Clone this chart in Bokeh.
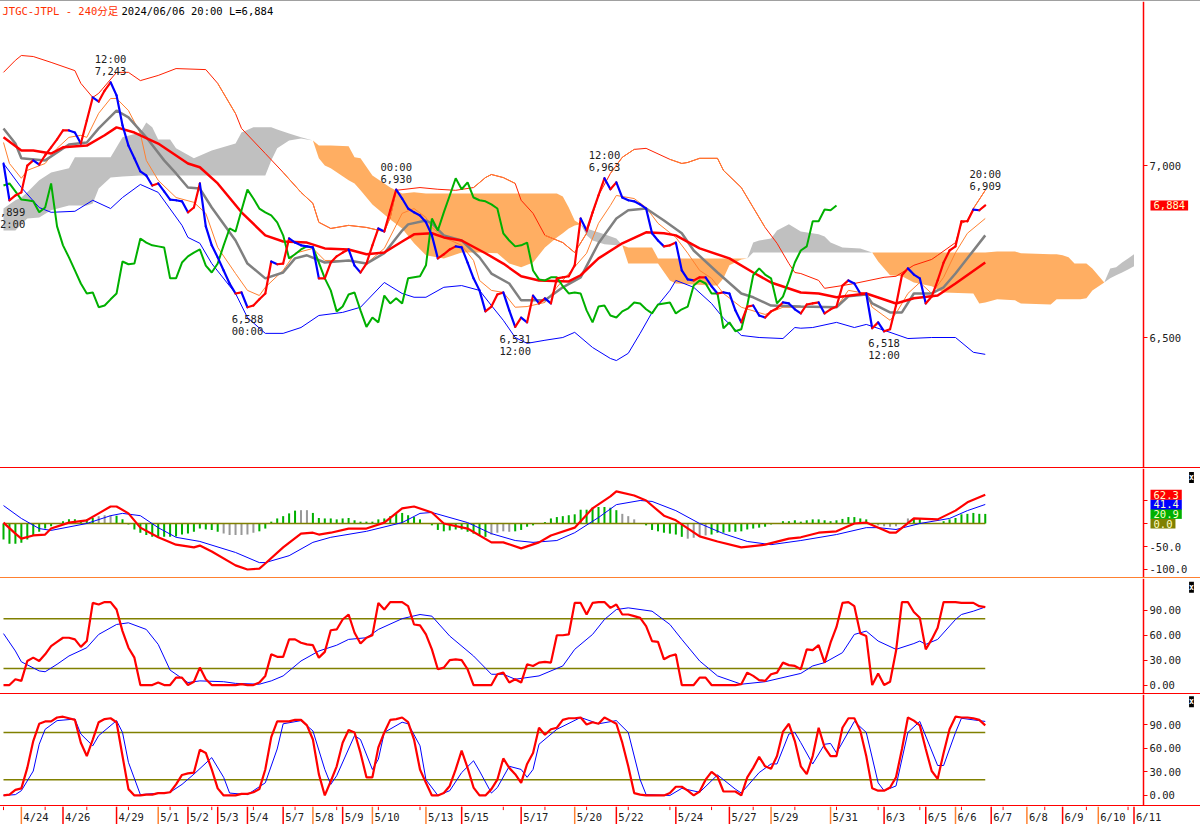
from bokeh.core.properties import value
from bokeh.embed import file_html
from bokeh.layouts import column
from bokeh.models import FixedTicker, Label, LinearAxis, Range1d, Spacer
from bokeh.plotting import figure
from bokeh.resources import INLINE

# 240 minute bars, 0 = first bar on screen, 165 = 2024/06/06 20:00
price = [
    7006, 6899, 6913, 6922, 7000, 7015, 7003, 7030, 7053, 7076,
    7102, 7102, 7096, 7064, 7131, 7198, 7186, 7218, 7242, 7204,
    7117, 7058, 7021, 6983, 6971, 6942, 6948, 6925, 6901, 6899,
    6896, 6864, 6878, 6948, 6823, 6768, 6733, 6695, 6657, 6628,
    6631, 6588, 6593, 6611, 6628, 6721, 6713, 6715, 6788, 6776,
    6768, 6765, 6762, 6672, 6672, 6718, 6736, 6747, 6756, 6709,
    6689, 6715, 6768, 6817, 6808, 6870, 6930, 6904, 6875, 6864,
    6855, 6835, 6797, 6730, 6742, 6756, 6765, 6762, 6718, 6672,
    6637, 6576, 6590, 6625, 6631, 6579, 6531, 6558, 6544, 6622,
    6599, 6614, 6599, 6672, 6675, 6678, 6710, 6846, 6811, 6864,
    6913, 6963, 6931, 6951, 6907, 6899, 6896, 6887, 6875, 6803,
    6782, 6765, 6768, 6776, 6695, 6669, 6666, 6675, 6675, 6649,
    6628, 6631, 6628, 6579, 6544, 6590, 6593, 6564, 6558, 6576,
    6585, 6602, 6599, 6582, 6570, 6596, 6599, 6602, 6570, 6582,
    6590, 6651, 6666, 6657, 6628, 6628, 6527, 6544, 6518, 6524,
    6593, 6681, 6701, 6683, 6672, 6599, 6619, 6666, 6718, 6753,
    6765, 6838, 6838, 6872, 6870, 6884,
]
chikou_lag = 25

upper_bars = [0, 2, 3, 5, 8, 12, 13, 15, 16, 19, 21, 23, 26, 29, 34, 36, 39, 40, 44, 47, 50, 52, 53, 55, 58, 61, 64, 65, 66,
              70, 73, 76, 79, 81, 82, 84, 86, 87, 89, 91, 94, 96, 98, 100, 102, 104, 106, 108, 112, 114, 115, 117, 120, 121,
              124, 126, 128, 130, 132, 133, 134, 137, 138, 141, 143, 148, 150, 153, 156, 157, 160, 161, 162, 163, 165]
upper_vals = [7271, 7306, 7320, 7317, 7300, 7276, 7239, 7198, 7210, 7271, 7271, 7247, 7262, 7282, 7279, 7239, 7151, 7108, 7035,
              6980, 6922, 6890, 6835, 6817, 6826, 6820, 6808, 6849, 6928,
              6936, 6931, 6928, 6936, 6965, 6974, 6965, 6948, 6899, 6861, 6797, 6776, 6747, 6803, 6913, 6977, 7024, 7047, 7050,
              7018, 7006, 7009, 7021, 7021, 6986, 6936, 6878, 6820, 6774, 6715, 6689, 6686, 6666, 6643, 6651, 6657, 6675, 6678,
              6710, 6727, 6739, 6776, 6832, 6840, 6875, 6928]
upper_orange = [(36, 39), (47, 66), (79, 86), (91, 98), (102, 106), (112, 128), (163, 165)]

lower_bars = [0, 3, 6, 8, 12, 15, 18, 20, 23, 26, 30, 31, 33, 35, 39, 41, 44, 47, 50, 53, 57, 60, 64, 67, 69, 71, 74, 77, 80, 82,
              84, 86, 88, 91, 94, 96, 99, 102, 103, 105, 107, 109, 112, 113, 116, 119, 121, 124, 127, 131, 133, 134, 136, 140,
              143, 145, 148, 152, 156, 160, 163, 165]
lower_vals = [7006, 6936, 6878, 6864, 6867, 6899, 6875, 6907, 6945, 6922, 6826, 6791, 6774, 6715, 6628, 6558, 6512, 6512, 6529,
              6564, 6573, 6588, 6660, 6628, 6617, 6617, 6646, 6651, 6637, 6593, 6550, 6500, 6483, 6492, 6500, 6515, 6471, 6439,
              6433, 6454, 6512, 6573, 6637, 6666, 6646, 6599, 6556, 6506, 6500, 6497, 6529, 6527, 6529, 6544, 6529, 6538, 6521,
              6497, 6500, 6500, 6457, 6451]

short_bars = [0, 1, 3, 4, 7, 9, 11, 13, 14, 16, 18, 19, 21, 23, 24, 26, 29, 32, 34, 36, 39, 41, 43, 44, 47, 49, 52, 54, 57, 61, 64,
              67, 69, 71, 72, 74, 77, 79, 80, 82, 84, 86, 88, 91, 93, 95, 98, 100, 102, 103, 106, 108, 110, 113, 115, 117, 119,
              121, 124, 128, 131, 134, 137, 140, 142, 145, 146, 149, 150, 152, 154, 156, 158, 160, 162, 165]
short_vals = [7067, 7006, 6963, 6986, 7006, 7050, 7082, 7088, 7082, 7152, 7195, 7195, 7160, 7093, 7015, 6957, 6907, 6893, 6861,
              6762, 6686, 6637, 6622, 6646, 6695, 6745, 6759, 6724, 6724, 6715, 6759,
              6861, 6875, 6849, 6820, 6791, 6768, 6724, 6666, 6637, 6631, 6588, 6590, 6602, 6646, 6686, 6745, 6832, 6884, 6913,
              6904, 6878, 6832, 6791, 6745, 6695, 6672, 6628, 6588, 6567, 6588, 6588, 6588, 6588, 6637, 6628, 6588, 6550, 6570,
              6628, 6660, 6628, 6675, 6747, 6803, 6846]

mid_bars = [0, 2, 3, 7, 9, 11, 14, 16, 19, 21, 24, 27, 29, 31, 33, 35, 39, 41, 44, 47, 49, 51, 54, 58, 61, 64, 67, 68, 71, 72, 74,
            77, 80, 82, 85, 87, 91, 94, 97, 100, 103, 105, 108, 111, 114, 116, 120, 124, 126, 129, 134, 140, 142, 145, 146, 149,
            151, 153, 156, 158, 160, 165]
mid_vals = [7108, 7064, 7021, 7015, 7038, 7061, 7067, 7108, 7160, 7140, 7082, 7015, 6977, 6936, 6933, 6878, 6782, 6715, 6672,
            6689, 6730, 6739, 6718, 6724, 6715, 6745, 6811, 6829, 6840, 6832, 6797,
            6782, 6733, 6686, 6657, 6608, 6608, 6646, 6675, 6774, 6846, 6870, 6875, 6840, 6803, 6753, 6689, 6628, 6617, 6593,
            6590, 6588, 6620, 6625, 6599, 6573, 6573, 6628, 6628, 6646, 6686, 6797]

long_bars = [0, 3, 5, 8, 10, 14, 17, 19, 22, 26, 31, 33, 36, 40, 44, 47, 51, 54, 58, 61, 64, 67, 69, 72, 74, 77, 81, 84, 87, 90, 95,
             97, 100, 104, 108, 111, 113, 117, 122, 126, 129, 134, 137, 140, 145, 150, 153, 157, 160, 165]
long_vals = [7082, 7044, 7044, 7035, 7053, 7058, 7088, 7111, 7096, 7064, 7006, 6995, 6948, 6864, 6797, 6779, 6776, 6759, 6756,
             6742, 6747, 6779, 6800, 6803, 6791, 6782, 6745, 6715, 6678, 6666, 6663,
             6681, 6730, 6774, 6806, 6803, 6797, 6759, 6730, 6689, 6660, 6631, 6628, 6617, 6628, 6599, 6614, 6622, 6657, 6718]

cloud_bars = [0, 2, 3, 4, 6, 8, 11, 12, 14, 15, 16, 18, 20, 23, 24, 25, 26, 28, 29, 32, 35, 39, 40, 42, 44, 45, 46, 48, 50, 52,
              53, 54, 55, 58, 59, 60, 62, 65, 67, 69, 71, 74, 77, 80, 83, 85, 87, 89, 91, 93, 94, 95, 96, 97,
              98, 99, 101, 103, 104,
              105, 109, 110, 112, 113, 119, 120, 121, 122, 124, 125,
              126, 127, 129, 130, 132, 134, 137, 138, 139, 141, 144, 146,
              147, 149, 151, 153, 156, 158, 163, 164, 165, 167, 170, 171, 176, 177, 178, 179, 180, 181, 182, 183, 185,
              186, 187, 188, 189, 190]
span_a = [6875, 6899, 6907, 6922, 6957, 6980, 6992, 7024, 7024, 7024, 7024, 7024, 7082, 7096, 7125, 7111, 7076, 7076, 7050, 7021,
          7044, 7064, 7096, 7111, 7111, 7111, 7105, 7093, 7082, 7073,
          7021, 7000, 6992, 6957, 6948, 6928, 6887, 6843, 6817, 6774, 6739, 6730, 6747, 6747, 6745, 6715, 6704, 6718, 6762, 6791,
          6803, 6817, 6826, 6829,
          6817, 6811, 6800, 6788, 6768,
          6715, 6715, 6715, 6666, 6657, 6651, 6651, 6672, 6710, 6727, 6730,
          6776, 6782, 6788, 6811, 6829, 6808, 6800, 6794, 6776, 6762, 6759, 6747,
          6721, 6681, 6678, 6660, 6649, 6631, 6628, 6599, 6602, 6611, 6608, 6599, 6596, 6611, 6611, 6611, 6611, 6611, 6614, 6637, 6660,
          6701, 6704, 6718, 6730, 6742]
span_b = [6811, 6811, 6829, 6846, 6849, 6870, 6884, 6884, 6884, 6890, 6933, 6965, 6968, 6971, 6971, 6971, 6971, 6971, 6971, 6971,
          6971, 6971, 6971, 6971, 6971, 7015, 7050, 7073, 7079, 7073,
          7058, 7058, 7058, 7056, 7024, 7021, 6971, 6936, 6919, 6922, 6919, 6919, 6919, 6919, 6919, 6919, 6919, 6919, 6919, 6919,
          6910, 6878, 6840, 6829,
          6797, 6782, 6771, 6768, 6768,
          6762, 6762, 6730, 6730, 6730, 6730, 6730, 6730, 6730, 6730, 6730,
          6747, 6747, 6747, 6747, 6747, 6747, 6747, 6747, 6747, 6747, 6747, 6747,
          6747, 6747, 6747, 6747, 6747, 6747, 6747, 6747, 6747, 6750, 6750, 6745, 6742, 6742, 6739, 6733, 6715, 6715, 6715, 6701, 6660,
          6672, 6681, 6689, 6698, 6707]

# (bar, high/low printed on the chart, time)
extreme_bars = [1, 18, 41, 66, 86, 101, 148, 165]
extreme_vals = [6899, 7243, 6588, 6930, 6531, 6963, 6518, 6909]
extreme_times = ["12:00", "12:00", "00:00", "00:00", "12:00", "12:00", "12:00", "20:00"]
extreme_is_high = [False, True, False, True, False, True, False, True]
last_price = 6884

macd_bars = [0, 2, 3, 5, 7, 8, 11, 14, 16, 18, 19, 21, 23, 26, 29, 32, 33, 35, 39, 41, 43, 44, 47, 50, 52, 53, 55, 58, 61, 64, 67,
             69, 72, 74, 78, 82, 84, 87, 90, 92, 96, 99, 102, 103, 106, 108, 111, 113, 117, 120, 124, 128, 132, 134,
             137, 140, 143, 145, 149, 150, 153, 157, 160, 162, 165]
macd_vals = [2, -22, -33, -26, -24, -11, 2, 7, 22, 37, 37, 22, -9, -30, -46, -52, -48, -61, -91, -100, -98, -87, -52, -22, -20, -24,
             -20, -11, -11, 2, 33,
             37, 24, 0, -11, -41, -41, -54, -41, -26, -9, 33, 59, 70, 61, 50, 17, 7, -28, -39, -52, -46, -33, -30,
             -20, -17, 0, 2, -20, -20, 11, 9, 28, 46, 62.3]
signal_bars = [0, 3, 6, 8, 14, 18, 20, 23, 26, 29, 33, 39, 43, 44, 48, 52, 55, 61, 67, 70, 72, 78, 82, 86, 89, 93, 96, 100, 103, 107,
               109, 113, 117, 121, 125, 129, 134, 140, 145, 147, 150, 154, 159, 162, 165]
signal_vals = [39, 11, -11, -15, 0, 17, 22, 17, -9, -30, -39, -63, -85, -85, -70, -41, -30, -17, 2, 22, 24, 2, -22, -37, -41, -37,
               -20, 13, 41, 50, 48, 28, 0, -22, -39, -46, -37, -24, -9, -9, -13, 0, 11, 28, 41.4]
macd_hist = [
    -35, -44, -44, -42, -35, -25, -18, -11, -6, -1,
    5, 9, 9, 5, 9, 12, 16, 18, 18, 17,
    9, -2, -13, -20, -25, -29, -29, -29, -29, -28,
    -24, -22, -18, -11, -13, -14, -18, -22, -25, -25,
    -25, -24, -20, -17, -11, 4, 11, 16, 22, 28,
    29, 29, 23, 12, 11, 11, 9, 11, 12, 7,
    4, 4, 4, 9, 11, 16, 22,
    23, 18, 14, 9, 1, -4, -14, -17, -15, -13,
    -13, -18, -22, -26, -29, -24, -20, -17, -18, -17,
    -14, -7, -4, 1, 3, 11, 14, 16, 18, 20,
    30, 30, 34, 36, 36, 34, 29, 21, 16, 9,
    1, -4, -14, -17, -20, -22, -24, -29, -33, -31,
    -29, -26, -24, -20, -20, -18, -18, -17, -13, -11,
    -9, -7, -2, 1, 5, 5, 7,
    4, 7, 9, 9, 7, 5, 7, 10, 14, 14,
    11, 9, 0, -4, -6, -7, -6, 1, 11, 12,
    12, 1, 0, 0, 5, 9, 12, 20, 21, 23,
    21, 20.9,
]
hist_gray = [16, 17, 18, 37, 38, 39, 40, 41, 42, 50, 51, 82, 83, 84, 85, 104, 105, 106, 115, 116, 117, 118, 147, 148, 149, 150, 152]

stoch_k = [
    0, 0, 7, 5, 29, 33, 29, 37, 47, 52,
    57, 57, 55, 46, 53, 99, 97, 100, 100, 91,
    65, 45, 33, 0, 0, 0, 3, 0, 0, 9,
    9, 0, 4, 21, 7, 0, 0, 0, 0, 0,
    1, 0, 0, 3, 11, 37, 34, 34, 55, 55,
    51, 49, 48, 33, 40, 66, 67, 79, 85, 63,
    50, 57, 60, 99, 91, 100, 100, 100, 95, 73,
    72, 61, 43, 19, 21, 30, 31, 30, 19, 0,
    0, 0, 0, 13, 15, 3, 7, 3, 25, 23,
    27, 28, 27, 60, 60, 61, 99, 99, 85, 99,
    100, 100, 93, 97, 85, 85, 83, 81, 71, 53,
    52, 31, 35, 37, 0, 0, 0, 9, 9, 0,
    0, 0, 0, 0, 1, 15, 11, 6, 5, 13,
    15, 27, 24, 23, 19, 43, 42, 48, 27, 51,
    70, 99, 100, 95, 62, 59, 0, 14, 0, 4,
    41, 100, 100, 88, 81, 43, 55, 69, 100, 100,
    100, 99, 99, 99, 95, 94,
]
stoch_d_bars = [0, 2, 3, 6, 7, 9, 11, 14, 16, 19, 21, 24, 26, 28, 31, 33, 37, 39, 43, 45, 47, 50, 53, 56, 58, 61, 63, 67,
                70, 72, 75, 79, 82, 84, 86, 90, 94, 96, 99, 101, 103, 105, 109, 112, 114, 117, 120, 124, 128, 134,
                136, 138, 141, 143, 145, 147, 150, 153, 154, 155, 157, 160, 161, 163, 165]
stoch_d_vals = [62, 41, 28, 17, 16, 25, 35, 45, 61, 73, 75, 67, 49, 18, 3, 5, 4, 2, 1, 5, 11, 29, 41, 48, 55, 57, 67, 80,
                85, 83, 59, 35, 13, 13, 7, 11, 23, 43, 61, 79, 91, 93, 89, 73, 55, 29, 11, 1, 4, 14,
                23, 27, 39, 61, 65, 53, 43, 50, 53, 49, 55, 79, 85, 89, 94]

slow_k = [
    0, 1, 7, 9, 35, 69, 91, 94, 94, 99,
    100, 98, 96, 67, 50, 71, 93, 97, 98, 93,
    50, 8, 0, 0, 1, 1, 3, 3, 4, 14,
    26, 28, 29, 58, 54, 33, 9, 0, 0, 0,
    2, 2, 4, 8, 33, 74, 94, 94, 94, 96,
    96, 89, 71, 27, 0, 18, 37, 67, 83, 80,
    54, 23, 23, 61, 80, 96, 97, 99, 93, 71,
    33, 16, 0, 0, 3, 12, 33, 57, 35, 10,
    0, 0, 8, 20, 47, 35, 27, 16, 40, 54,
    86, 77, 84, 86, 96, 98, 98, 99, 90, 93,
    91, 99, 95, 91, 67, 37, 3, 1, 0, 0,
    0, 0, 3, 11, 11, 6, 0, 5, 20, 30,
    24, 5, 5, 5, 0, 23, 35, 49, 37, 34,
    50, 81, 91, 69, 37, 27, 50, 86, 61, 50,
    50, 86, 98, 98, 82, 50, 9, 6, 6, 10,
    23, 59, 99, 95, 89, 59, 31, 21, 54, 84,
    100, 99, 99, 98, 96, 89,
]
slow_d_bars = [0, 2, 3, 5, 6, 7, 9, 12, 13, 15, 16, 19, 20, 21, 23, 28, 30, 32, 35, 37, 38, 41, 44, 46, 47, 50, 52, 54, 55, 56, 59,
               60, 62, 63, 64, 67, 68, 70, 71, 73, 75, 77, 79, 80, 82, 83, 85, 87, 88, 89, 90, 93, 97, 100, 103, 105, 107, 108,
               112, 114, 117, 120, 123, 124, 127, 129, 130, 132, 133, 134, 136, 138, 139, 140, 143, 145, 147, 148, 150, 152,
               154, 157, 158, 160, 161, 165]
slow_d_vals = [0, 1, 6, 31, 65, 84, 95, 97, 78, 63, 76, 95, 80, 42, 1, 4, 14, 27, 48, 23, 3, 1, 16, 59, 91, 95, 82, 33, 14, 25, 76,
               71, 33, 46, 80, 93, 91, 63, 20, 0, 6, 29, 44, 31, 3, 10, 37, 33, 23, 33, 65, 84, 99, 91, 95, 80, 20, 1,
               0, 9, 4, 26, 8, 3, 29, 40, 40, 78, 80, 67, 40, 65, 66, 54, 94, 80, 16, 6, 12, 80,
               94, 38, 38, 80, 98, 94]

date_bars = [3, 10, 19, 26, 31, 36, 41, 47, 52, 57, 62, 71, 77, 87, 96, 103, 113, 122, 129, 139, 148, 155, 160, 166, 172, 178, 184, 190]
date_labels = ["4/24", "4/26", "4/29", "5/1", "5/2", "5/3", "5/4", "5/7", "5/8", "5/9", "5/10", "5/13", "5/15", "5/17", "5/20", "5/22",
               "5/24", "5/27", "5/29", "5/31", "6/3", "6/5", "6/6", "6/7", "6/8", "6/9", "6/10", "6/11"]
date_orange = ["4/24", "5/1", "5/8", "5/10", "5/13", "5/20", "5/29", "5/31", "6/6", "6/8", "6/10"]
minor_date_bars = list(range(0, 190, 7))

price_ticks = {7000: "7,000", 6500: "6,500"}
macd_ticks = {50: "", 0: "", -50: "-50.0", -100: "-100.0"}
stoch_ticks = {90: "90.00", 60: "60.00", 30: "30.00", 0: "0.00"}
stoch_levels = [80, 20]

MONO = "DejaVu Sans Mono"
FONT_SIZE = "10.5px"
RED = "#ff0000"
BLUE = "#0000ff"
ORANGE = "#ff8030"
GRAY = "#808080"
GREEN = "#00b000"
OLIVE = "#808000"
TEXT = "#202020"
BAR_PX = 5.95

# the frame runs the full width, the price axis stands inside it at bar 191.6
shared_x = Range1d(-3 / BAR_PX, 1197 / BAR_PX)
axis_bar = 1140 / BAR_PX


def panel(frame_height, y_range, ticks):
    p = figure(frame_width=1200, frame_height=frame_height, x_range=shared_x, y_range=y_range,
               x_axis_location=None, y_axis_location=None,
               output_backend="svg", toolbar_location=None,
               min_border_left=0, min_border_right=0, min_border_top=0, min_border_bottom=0)
    p.grid.visible = False
    p.outline_line_color = None
    p.background_fill_color = "white"
    axis = LinearAxis(fixed_location=axis_bar, ticker=FixedTicker(ticks=list(ticks)), major_label_overrides=ticks)
    axis.axis_line_color = RED
    axis.axis_line_width = 1.5
    axis.major_tick_line_color = RED
    axis.major_tick_in = 0
    axis.major_tick_out = 4
    axis.minor_tick_line_color = None
    axis.major_label_standoff = 2
    axis.major_label_text_font = MONO
    axis.major_label_text_font_size = FONT_SIZE
    axis.major_label_text_color = TEXT
    p.add_layout(axis, "right")
    return p


def tag(p, text, y, fill):
    p.add_layout(Label(x=1150, y=y, x_units="screen", text=text, text_font=MONO, text_font_size=FONT_SIZE,
                       text_color="#ffffc8", text_baseline="middle", background_fill_color=fill, padding=(3, 1)))


def close_box(p, y):
    p.add_layout(Label(x=1191, y=y, x_units="screen", text="x", text_font=MONO, text_font_size="8px", text_font_style="bold",
                       text_color="white", text_align="center", text_baseline="middle",
                       background_fill_color="black", padding=(0, 1)))


# price panel
main = panel(466, Range1d(6122, 7477), price_ticks)

# cloud, split where the two spans cross
run = [0]
for i in range(1, len(cloud_bars)):
    run.append(i)
    if span_a[i] == span_b[i] or i == len(cloud_bars) - 1:
        top_heavy = sum(span_a[j] - span_b[j] for j in run)
        main.varea(x=[cloud_bars[j] for j in run], y1=[span_a[j] for j in run], y2=[span_b[j] for j in run],
                   fill_color="#c0c0c0" if top_heavy > 0 else "#ffae62")
        run = [i]

main.line(upper_bars, upper_vals, line_color="#ff2000", line_width=1)
for start, end in upper_orange:
    keep = [i for i, b in enumerate(upper_bars) if start <= b <= end]
    main.line([upper_bars[i] for i in keep], [upper_vals[i] for i in keep], line_color=ORANGE, line_width=1)
main.line(lower_bars, lower_vals, line_color=BLUE, line_width=1)
main.line(short_bars, short_vals, line_color=ORANGE, line_width=1)
main.line(mid_bars, mid_vals, line_color=GRAY, line_width=2.5)
main.line(long_bars, long_vals, line_color=RED, line_width=2.5)

bars = list(range(len(price)))
main.line(bars[:-chikou_lag], price[chikou_lag:], line_color=GREEN, line_width=2)
main.segment(x0=bars[:-1], y0=price[:-1], x1=bars[1:], y1=price[1:], line_width=2.2, line_cap="round",
             line_color=[RED if b >= a else BLUE for a, b in zip(price[:-1], price[1:])])

first_line = [t if high else f"{v:,}" for t, v, high in zip(extreme_times, extreme_vals, extreme_is_high)]
second_line = [f"{v:,}" if high else t for t, v, high in zip(extreme_times, extreme_vals, extreme_is_high)]
main.text(x=extreme_bars, y=extreme_vals, text=first_line, y_offset=[-23 if h else 12 for h in extreme_is_high],
          text_align="center", text_baseline="middle", text_font=value(MONO), text_font_size=value(FONT_SIZE), text_color=TEXT)
main.text(x=extreme_bars, y=extreme_vals, text=second_line, y_offset=[-11 if h else 24 for h in extreme_is_high],
          text_align="center", text_baseline="middle", text_font=value(MONO), text_font_size=value(FONT_SIZE), text_color=TEXT)

main.add_layout(Label(x=2, y=7448, x_units="screen", text="JTGC-JTPL - 240分足", text_font=MONO + ", 'Noto Sans CJK JP'",
                      text_font_size=FONT_SIZE, text_color="#ff3000", text_baseline="middle"))
main.add_layout(Label(x=121, y=7448, x_units="screen", text=f"2024/06/06 20:00 L={last_price:,}", text_font=MONO,
                      text_font_size=FONT_SIZE, text_color="black", text_baseline="middle"))
tag(main, f"{last_price:,}", last_price, RED)

# macd panel
macd_panel = panel(109, Range1d(-117.4, 119.6), macd_ticks)
macd_panel.vbar(x=bars, top=macd_hist, bottom=0, width=0.34, line_color=None,
                fill_color=["#999999" if i in hist_gray else GREEN for i in bars])
macd_panel.line(bars, [0] * len(bars), line_color=OLIVE, line_width=1.5)
macd_panel.line(signal_bars, signal_vals, line_color=BLUE, line_width=1)
macd_panel.line(macd_bars, macd_vals, line_color=RED, line_width=2.2)
tag(macd_panel, "0.0", 0, OLIVE)
tag(macd_panel, f"{macd_hist[-1]}", macd_hist[-1], GREEN)
tag(macd_panel, f"{signal_vals[-1]}", signal_vals[-1], BLUE)
tag(macd_panel, f"{macd_vals[-1]}", macd_vals[-1], RED)
close_box(macd_panel, 100)

# stochastics
stoch_panel = panel(115, Range1d(-10.2, 128.4), stoch_ticks)
slow_panel = panel(111, Range1d(-12.8, 128.2), stoch_ticks)
for p, k, d_bars, d_vals in [(stoch_panel, stoch_k, stoch_d_bars, stoch_d_vals), (slow_panel, slow_k, slow_d_bars, slow_d_vals)]:
    for level in stoch_levels:
        p.line([bars[0], bars[-1]], [level, level], line_color=OLIVE, line_width=1.5)
    p.line(d_bars, d_vals, line_color=BLUE, line_width=1)
    p.line(bars, k, line_color=RED, line_width=2.2)
close_box(stoch_panel, 118)
close_box(slow_panel, 119)

# date strip
dates = figure(frame_width=1200, frame_height=18, x_range=shared_x, y_range=Range1d(0, 1),
               x_axis_location=None, y_axis_location=None, output_backend="svg", toolbar_location=None,
               min_border_left=0, min_border_right=0, min_border_top=0, min_border_bottom=0)
dates.grid.visible = False
dates.outline_line_color = None
dates.segment(x0=minor_date_bars, x1=minor_date_bars, y0=[1] * len(minor_date_bars), y1=[0.8] * len(minor_date_bars), line_color=RED, line_width=1)
dates.segment(x0=date_bars, x1=date_bars, y0=[1] * len(date_bars), y1=[0] * len(date_bars), line_width=1.5,
              line_color=[ORANGE if d in date_orange else RED for d in date_labels])
dates.text(x=date_bars, y=[0.42] * len(date_bars), text=date_labels, x_offset=2, text_baseline="middle",
           text_font=value(MONO), text_font_size=value(FONT_SIZE), text_color=TEXT)


def rule(color, height=1):
    return Spacer(width=1200, height=height, styles={"background-color": color})


page = column(rule("#a0a0a0"), main, rule(RED), macd_panel, rule(ORANGE), stoch_panel, rule(RED), slow_panel, rule(RED), dates,
              spacing=0)

open("out.html", "w").write(file_html(page, INLINE))
